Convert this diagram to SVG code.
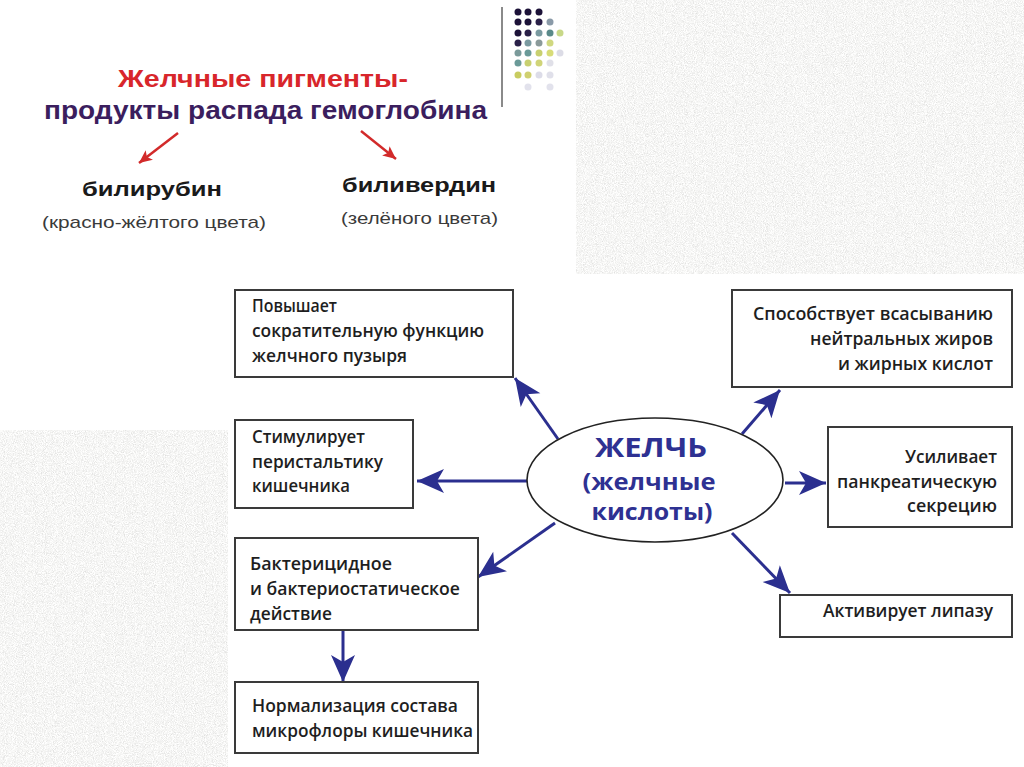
<svg xmlns="http://www.w3.org/2000/svg" width="1024" height="767" viewBox="0 0 1024 767">
<defs>
<filter id="noise" x="0" y="0" width="1" height="1" filterUnits="objectBoundingBox">
<feTurbulence type="fractalNoise" baseFrequency="1.1" numOctaves="2" seed="4" result="n"/>
<feColorMatrix in="n" type="matrix" values="0.5 0 0 0 0.67  0.5 0 0 0 0.67  0.5 0 0 0 0.66  0 0 0 0 1"/>
</filter>
<marker id="ab" viewBox="-28 -12 30 24" refX="0" refY="0" markerWidth="30" markerHeight="24" markerUnits="userSpaceOnUse" orient="auto">
<path d="M0,0 L-27,-12 L-20,0 L-27,12 Z" fill="#2b2f8f"/>
</marker>
<marker id="ar" viewBox="-14 -7 16 14" refX="0" refY="0" markerWidth="16" markerHeight="14" markerUnits="userSpaceOnUse" orient="auto">
<path d="M0,0 L-13,-6 L-10,0 L-13,6 Z" fill="#d22a2a"/>
</marker>
<style>
.box{fill:#fff;stroke:#3a3a3a;stroke-width:2}
.t{font-family:"Open Sans","Noto Sans",sans-serif;font-weight:600;font-size:17.5px;fill:#1e1e1e}
.r{text-anchor:end}
.bl{stroke:#2b2f8f;stroke-width:3;fill:none;marker-end:url(#ab)}
.rd{stroke:#d22a2a;stroke-width:2.5;fill:none;marker-end:url(#ar)}
.h{font-family:"Liberation Sans",Arial,sans-serif;font-weight:bold}
.e{font-family:"Open Sans","Noto Sans",sans-serif;font-weight:700;fill:#2e3192;text-anchor:middle}
</style>
</defs>
<rect width="1024" height="767" fill="#fff"/>
<rect x="576" y="0" width="448" height="274" filter="url(#noise)"/>
<rect x="0" y="430" width="228" height="337" filter="url(#noise)"/>

<g id="decor">
<line x1="502" y1="7" x2="502" y2="107" stroke="#8a8a8a" stroke-width="2"/>
<g>
<circle cx="518" cy="12" r="3.5" fill="#1c1238"/><circle cx="528" cy="12" r="3.5" fill="#1c1238"/><circle cx="539" cy="12" r="3.5" fill="#1c1238"/>
<circle cx="518" cy="22" r="3.5" fill="#1c1238"/><circle cx="528" cy="22" r="3.5" fill="#1c1238"/><circle cx="539" cy="22" r="3.5" fill="#2a2048"/><circle cx="550" cy="22" r="3.5" fill="#8a9aa8"/>
<circle cx="518" cy="33" r="3.5" fill="#1c1238"/><circle cx="528" cy="33" r="3.5" fill="#2a2048"/><circle cx="539" cy="33" r="3.5" fill="#7a9aa0"/><circle cx="550" cy="33" r="3.5" fill="#5a8a8a"/><circle cx="560" cy="33" r="3.5" fill="#c8d888"/>
<circle cx="518" cy="43" r="3.5" fill="#2a2048"/><circle cx="528" cy="43" r="3.5" fill="#7a9aa0"/><circle cx="539" cy="43" r="3.5" fill="#8a9a9a"/><circle cx="550" cy="43" r="3.5" fill="#d0d880"/>
<circle cx="518" cy="53" r="3.5" fill="#7a9a9a"/><circle cx="528" cy="53" r="3.5" fill="#6a9a98"/><circle cx="539" cy="53" r="3.5" fill="#c8d070"/><circle cx="550" cy="53" r="3.5" fill="#d8dc78"/><circle cx="560" cy="53" r="3.5" fill="#dcdce6"/>
<circle cx="518" cy="63" r="3.5" fill="#6a9a98"/><circle cx="528" cy="63" r="3.5" fill="#c8d070"/><circle cx="539" cy="63" r="3.5" fill="#d0d478"/><circle cx="550" cy="63" r="3.5" fill="#e0e0e8"/>
<circle cx="518" cy="75" r="3.5" fill="#c8cc60"/><circle cx="528" cy="75" r="3.5" fill="#d0d070"/><circle cx="539" cy="75" r="3.5" fill="#dcdce8"/><circle cx="550" cy="75" r="3.5" fill="#e0e0ea"/>
<circle cx="528" cy="87" r="3.5" fill="#e2e2ec"/><circle cx="550" cy="87" r="3.5" fill="#e2e2ec"/>
</g>
</g>

<g id="pigments">
<text class="h" x="118" y="87" font-size="24" fill="#d8262b" textLength="290" lengthAdjust="spacingAndGlyphs">Желчные пигменты-</text>
<text class="h" x="44" y="119" font-size="25" fill="#3b1e5e" textLength="443" lengthAdjust="spacingAndGlyphs">продукты распада гемоглобина</text>
</g>
<g id="bilirubin">
<text class="h" x="82" y="196" font-size="20" fill="#1a1a1a" textLength="140" lengthAdjust="spacingAndGlyphs">билирубин</text>
<text x="42" y="228" font-family="Liberation Sans,Arial,sans-serif" font-size="17" fill="#3a3a3a" textLength="224" lengthAdjust="spacingAndGlyphs">(красно-жёлтого цвета)</text>
</g>
<g id="biliverdin">
<text class="h" x="342" y="192" font-size="20" fill="#1a1a1a" textLength="154" lengthAdjust="spacingAndGlyphs">биливердин</text>
<text x="341" y="224" font-family="Liberation Sans,Arial,sans-serif" font-size="17" fill="#3a3a3a" textLength="157" lengthAdjust="spacingAndGlyphs">(зелёного цвета)</text>
</g>

<g id="connectors">
<line class="rd" x1="178" y1="133" x2="139" y2="163"/>
<line class="rd" x1="361" y1="131" x2="396" y2="159"/>
<line class="bl" x1="558" y1="439" x2="515" y2="378"/>
<line class="bl" x1="527" y1="481" x2="417" y2="481"/>
<line class="bl" x1="555" y1="523" x2="478" y2="577"/>
<line class="bl" x1="343" y1="630" x2="343" y2="682"/>
<line class="bl" x1="742" y1="434" x2="780" y2="390"/>
<line class="bl" x1="785" y1="483" x2="826" y2="483"/>
<line class="bl" x1="732" y1="533" x2="790" y2="593"/>
</g>

<g id="bile">
<ellipse cx="655" cy="480" rx="128" ry="62" fill="#fff" stroke="#222" stroke-width="1.6"/>
<text class="e" x="651" y="457" font-size="27" textLength="112" lengthAdjust="spacingAndGlyphs">ЖЕЛЧЬ</text>
<text class="e" x="649" y="490" font-size="24" textLength="133" lengthAdjust="spacingAndGlyphs">(желчные</text>
<text class="e" x="652" y="520" font-size="24" textLength="121" lengthAdjust="spacingAndGlyphs">кислоты)</text>
</g>

<g id="box-contract">
<rect class="box" x="235" y="290" width="278" height="87"/>
<text class="t" x="252" y="312" textLength="85" lengthAdjust="spacingAndGlyphs">Повышает</text>
<text class="t" x="252" y="337" textLength="232" lengthAdjust="spacingAndGlyphs">сократительную функцию</text>
<text class="t" x="252" y="362" textLength="155" lengthAdjust="spacingAndGlyphs">желчного пузыря</text>
</g>
<g id="box-peristalsis">
<rect class="box" x="235" y="420" width="178" height="88"/>
<text class="t" x="252" y="443" textLength="113" lengthAdjust="spacingAndGlyphs">Стимулирует</text>
<text class="t" x="252" y="468" textLength="131" lengthAdjust="spacingAndGlyphs">перистальтику</text>
<text class="t" x="252" y="492" textLength="98" lengthAdjust="spacingAndGlyphs">кишечника</text>
</g>
<g id="box-bactericidal">
<rect class="box" x="235" y="538" width="243" height="92"/>
<text class="t" x="250" y="570" textLength="142" lengthAdjust="spacingAndGlyphs">Бактерицидное</text>
<text class="t" x="250" y="595" textLength="210" lengthAdjust="spacingAndGlyphs">и бактериостатическое</text>
<text class="t" x="250" y="620" textLength="82" lengthAdjust="spacingAndGlyphs">действие</text>
</g>
<g id="box-microflora">
<rect class="box" x="235" y="682" width="243" height="71"/>
<text class="t" x="252" y="712" textLength="206" lengthAdjust="spacingAndGlyphs">Нормализация состава</text>
<text class="t" x="252" y="737" textLength="221" lengthAdjust="spacingAndGlyphs">микрофлоры кишечника</text>
</g>
<g id="box-absorption">
<rect class="box" x="732" y="290" width="280" height="97"/>
<text class="t r" x="993" y="320" textLength="240" lengthAdjust="spacingAndGlyphs">Способствует всасыванию</text>
<text class="t r" x="993" y="345" textLength="183" lengthAdjust="spacingAndGlyphs">нейтральных жиров</text>
<text class="t r" x="993" y="370" textLength="155" lengthAdjust="spacingAndGlyphs">и жирных кислот</text>
</g>
<g id="box-pancreatic">
<rect class="box" x="828" y="427" width="184" height="100"/>
<text class="t r" x="997" y="463" textLength="92" lengthAdjust="spacingAndGlyphs">Усиливает</text>
<text class="t r" x="997" y="488" textLength="160" lengthAdjust="spacingAndGlyphs">панкреатическую</text>
<text class="t r" x="997" y="512" textLength="90" lengthAdjust="spacingAndGlyphs">секрецию</text>
</g>
<g id="box-lipase">
<rect class="box" x="780" y="595" width="232" height="42"/>
<text class="t r" x="993" y="617" textLength="170" lengthAdjust="spacingAndGlyphs">Активирует липазу</text>
</g>
</svg>
